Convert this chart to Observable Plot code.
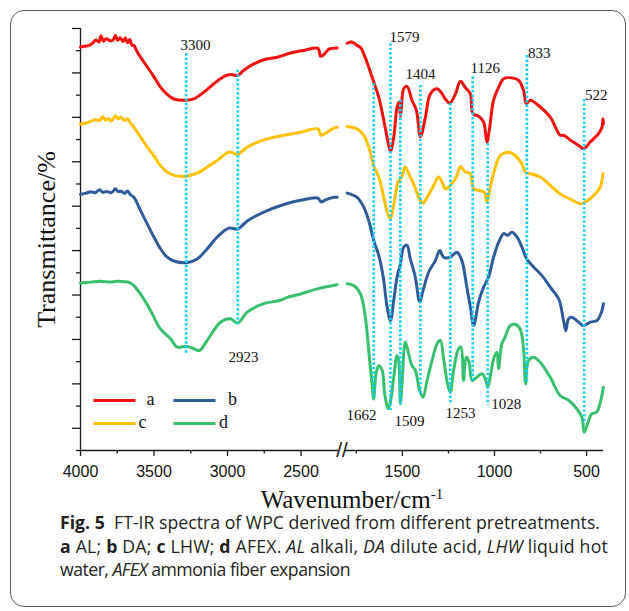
<!DOCTYPE html>
<html><head><meta charset="utf-8">
<script src="https://cdn.jsdelivr.net/npm/d3@7"></script>
<script src="https://cdn.jsdelivr.net/npm/@observablehq/plot@0.6"></script>
<style>
html,body{margin:0;padding:0;background:#fff;}
#wrap{position:relative;width:629px;height:611px;overflow:hidden;background:#fff;}
#box{position:absolute;left:10px;top:10px;width:616px;height:597px;border:1.3px solid #5a5a5a;border-radius:14px;box-sizing:border-box;}
#chart{position:absolute;left:0;top:0;}
.cap{position:absolute;left:60px;white-space:nowrap;font-family:"Open Sans",sans-serif;color:#231f20;line-height:1;}
</style></head><body>
<div id="wrap"><div id="box"></div><div id="chart"></div><div id="caption"></div></div>
<script>
// ---- data (wavenumber cm-1, transmittance offset %) ----
const series = ["a", "b", "c", "d"];
const seriesColors = ["#f2110f", "#2e5c9a", "#ffc000", "#38c06c"];

const aLeft = [[4000,95.6],[3970,95.8],[3940,96.0],[3915,96.6],[3895,97.3],[3875,96.8],[3860,98.3],[3845,97.0],[3825,97.6],[3800,97.1],[3780,97.2],[3762,98.4],[3748,97.2],[3730,97.8],[3710,96.9],[3695,97.8],[3680,96.6],[3665,97.4],[3650,96.0],[3637,96.0],[3615,94.5],[3592,93.2],[3546,90.9],[3501,88.6],[3456,86.1],[3410,84.4],[3365,83.3],[3281,83.0],[3229,83.3],[3161,84.9],[3093,86.9],[3025,88.6],[2980,89.1],[2930,88.9],[2889,90.1],[2821,91.6],[2753,92.6],[2662,93.2],[2571,94.2],[2481,94.8],[2385,95.3],[2367,93.4],[2340,94.0],[2310,95.1],[2254,95.4]];
const aRight = [[1800,96.5],[1775,96.8],[1746,96.0],[1725,95.4],[1710,94.0],[1683,90.9],[1656,87.3],[1628,83.7],[1601,78.2],[1580,73.5],[1565,70.9],[1547,74.3],[1529,81.4],[1518,82.6],[1511,79.2],[1505,81.5],[1493,85.7],[1475,86.3],[1448,83.0],[1424,80.6],[1402,74.3],[1375,79.0],[1348,84.5],[1312,85.7],[1290,84.9],[1267,83.3],[1243,82.3],[1212,84.5],[1185,87.5],[1158,86.0],[1131,84.5],[1117,79.8],[1086,79.2],[1059,77.8],[1041,73.1],[1026,76.6],[1005,83.0],[977,86.1],[950,88.1],[905,88.3],[869,87.7],[842,85.3],[827,82.2],[806,83.0],[751,81.4],[697,79.0],[643,74.7],[625,74.7],[589,73.6],[543,72.3],[516,71.5],[480,73.1],[435,75.1],[416,76.6],[411,78.6],[408,77.4]];

const bLeft = [[4000,60.7],[3960,61.0],[3930,61.3],[3900,61.1],[3870,61.8],[3850,61.2],[3820,61.4],[3790,61.1],[3762,62.0],[3745,61.4],[3720,61.4],[3700,60.9],[3680,61.5],[3660,60.6],[3637,60.0],[3592,56.9],[3546,53.7],[3501,50.6],[3456,47.8],[3410,45.8],[3365,44.9],[3281,44.5],[3206,45.4],[3138,47.8],[3070,50.6],[2991,52.7],[2930,52.5],[2866,54.4],[2753,56.5],[2617,58.3],[2503,59.3],[2385,59.8],[2363,58.9],[2333,59.4],[2277,60.0],[2254,60.0]];
const bRight = [[1800,61.0],[1746,60.0],[1710,57.7],[1683,54.5],[1656,49.8],[1628,46.2],[1604,41.1],[1583,34.0],[1565,30.8],[1547,35.6],[1529,41.1],[1511,44.2],[1493,48.2],[1475,48.6],[1457,45.4],[1430,41.1],[1406,35.2],[1388,37.9],[1357,42.3],[1321,45.0],[1297,47.4],[1276,45.8],[1240,45.8],[1204,47.0],[1177,45.0],[1150,38.7],[1131,34.0],[1113,29.6],[1086,35.2],[1059,38.7],[1032,41.1],[1005,45.8],[977,49.4],[950,51.4],[929,51.0],[905,51.7],[878,50.6],[851,48.2],[825,45.4],[788,43.5],[743,41.5],[697,38.7],[651,35.9],[625,30.8],[613,28.4],[598,31.2],[580,31.6],[543,30.4],[516,29.6],[480,30.4],[443,30.8],[422,32.4],[408,34.8]];

const cLeft = [[4000,77.3],[3960,77.6],[3930,78.0],[3900,78.4],[3870,78.2],[3850,79.1],[3830,78.3],[3810,78.6],[3790,78.1],[3762,79.3],[3745,78.6],[3725,79.0],[3700,78.2],[3680,78.6],[3660,77.6],[3637,76.6],[3592,74.3],[3546,71.9],[3501,69.9],[3456,67.5],[3410,66.0],[3365,65.2],[3281,65.0],[3206,65.7],[3138,67.2],[3070,68.7],[2991,70.7],[2930,70.2],[2866,71.9],[2753,73.6],[2617,74.7],[2503,75.4],[2385,76.2],[2363,74.7],[2333,75.2],[2277,76.4],[2254,76.6]];
const cRight = [[1800,76.8],[1746,76.2],[1710,74.7],[1683,71.9],[1656,67.5],[1628,64.8],[1601,60.0],[1580,56.1],[1565,54.9],[1543,59.3],[1524,63.6],[1505,64.8],[1484,67.2],[1466,65.6],[1439,63.2],[1411,60.0],[1388,58.6],[1366,60.0],[1330,62.8],[1303,64.8],[1281,63.2],[1267,62.0],[1240,62.8],[1207,64.8],[1185,67.3],[1158,66.0],[1131,65.6],[1113,62.0],[1080,61.6],[1055,61.2],[1041,58.9],[1023,62.4],[995,67.2],[968,69.9],[923,70.7],[887,69.9],[851,67.9],[833,66.0],[806,65.6],[751,64.8],[697,62.8],[643,60.8],[589,59.6],[534,58.5],[507,58.9],[462,60.4],[426,62.4],[411,65.6]];

const dLeft = [[4000,39.7],[3930,39.9],[3864,40.1],[3800,39.9],[3751,40.1],[3700,40.0],[3660,39.7],[3625,38.6],[3592,37.1],[3524,33.2],[3456,28.8],[3388,26.5],[3342,24.5],[3281,24.7],[3240,24.3],[3190,23.7],[3138,26.1],[3048,30.4],[2980,31.2],[2930,30.2],[2866,32.8],[2753,34.8],[2639,35.6],[2594,36.3],[2503,37.1],[2390,38.3],[2254,39.3]];
const dRight = [[1800,39.5],[1764,39.1],[1728,37.1],[1701,31.6],[1683,23.7],[1665,15.8],[1656,12.2],[1643,18.2],[1628,20.1],[1610,19.0],[1596,13.4],[1578,9.9],[1565,11.5],[1547,17.4],[1529,22.5],[1520,21.3],[1511,11.1],[1502,15.8],[1484,25.7],[1466,22.9],[1448,20.1],[1430,19.0],[1406,14.2],[1388,12.6],[1366,16.6],[1339,21.3],[1312,25.3],[1294,26.1],[1276,21.7],[1255,15.8],[1240,13.8],[1222,19.0],[1195,24.1],[1182,24.5],[1168,16.6],[1154,22.1],[1140,21.3],[1121,16.6],[1095,17.4],[1068,18.2],[1050,17.0],[1036,15.0],[1020,18.2],[1002,22.1],[987,23.3],[978,19.4],[960,25.3],[942,26.9],[915,29.6],[888,29.9],[861,28.8],[843,24.5],[831,15.8],[816,21.3],[788,22.1],[752,20.9],[698,17.4],[643,13.0],[598,11.9],[553,9.9],[525,7.9],[513,4.3],[495,6.3],[472,8.7],[445,9.1],[427,11.1],[409,15.0]];

const peakLabels = ["3300","2923","1662","1579","1509","1404","1253","1126","1028","833","522"];
const peakRuleX = [3281, 2930, 1656, 1565, 1511, 1402, 1240, 1118, 1037, 824, 513];
const peakTop = [94.0, 90.1, 86.9, 96.4, 83.0, 86.5, 82.2, 88.5, 72.7, 93.6, 83.2];
const peakBottom = [22.9, 30.0, 12.2, 9.1, 10.7, 13.0, 10.7, 16.2, 10.7, 15.8, 6.3];
const peakLabelX = [3218, 2891, 1722, 1489, 1462, 1402, 1185, 1050, 936, 757, 447];
const peakLabelY = [96.0, 22.0, 8.3, 97.9, 6.9, 89.1, 8.8, 90.5, 10.9, 94.1, 84.1];

const xMajor = [4000, 3500, 3000, 2500, 1500, 1000, 500];
const xMinor = [3750, 3250, 2750, 1750, 1250, 750];
const xSegments = [[4000, 2245], [1809, 408]];

// ---- broken x axis: wavenumber -> axis length (two linear pieces with a gap) ----
const xBreaks = [4000, 2245, 1809, 408];
const axisLen = [0, 258, 265, 523];
const brk = d3.scaleLinear(xBreaks, axisLen);
const frame = {left: 80, right: 603, top: 28, bottom: 450};
const yDomain = [0, 100];
const ys = d3.scaleLinear(yDomain, [frame.bottom, frame.top]);
const uPix = d3.scaleLinear([0, 523], [frame.left, frame.right]);
const yTicks = d3.range(20).map(i => 100 - i * 100 / 19);
const yMajor = yTicks.filter((_, i) => i % 2 === 0);
const yMinor = yTicks.filter((_, i) => i % 2 === 1);

const rows = [];
const segs = {a: [aLeft, aRight], b: [bLeft, bRight], c: [cLeft, cRight], d: [dLeft, dRight]};
for (const key of series) segs[key].forEach((seg, i) => seg.forEach(([wn, t]) => rows.push({series: key, seg: key + i, wn, t})));

const legendItems = [{key: "a", row: 0, col: 0, lx: 150}, {key: "b", row: 0, col: 1, lx: 232}, {key: "c", row: 1, col: 0, lx: 142}, {key: "d", row: 1, col: 1, lx: 223}];
const colX0 = [93, 173], colX1 = [135, 215], rowY = [400, 423];

const axisColor = "#1a1a1a";
const idx = peakLabels.map((_, i) => i);

const chart = Plot.plot({
  width: 629, height: 530,
  marginLeft: frame.left, marginRight: 629 - frame.right, marginTop: frame.top, marginBottom: 530 - frame.bottom,
  style: {background: "transparent", overflow: "visible"},
  x: {domain: [0, 523], axis: null},
  y: {domain: yDomain, axis: null},
  color: {domain: series, range: seriesColors},
  marks: [
    // axes
    Plot.ruleX([4000], {x: d => brk(d), y1: 0, y2: 100, stroke: axisColor, strokeWidth: 1.3}),
    Plot.ruleY(xSegments, {y: 0, x1: d => brk(d[0]), x2: d => brk(d[1]), stroke: axisColor, strokeWidth: 1.3}),
    Plot.ruleY(yMajor, {y: d => d, x1: 0, x2: uPix.invert(72), stroke: axisColor, strokeWidth: 1.3}),
    Plot.ruleY(yMinor, {y: d => d, x1: 0, x2: uPix.invert(76), stroke: axisColor, strokeWidth: 1.3}),
    Plot.ruleX(xMajor, {x: d => brk(d), y1: 0, y2: ys.invert(456), stroke: axisColor, strokeWidth: 1.3}),
    Plot.ruleX(xMinor, {x: d => brk(d), y1: 0, y2: ys.invert(453.5), stroke: axisColor, strokeWidth: 1.3}),
    Plot.text(xMajor, {x: d => brk(d), y: 0, dy: 21, text: d => String(d), fontFamily: "Liberation Sans", fontSize: 16, fill: "#111"}),
    Plot.text(["//"], {x: (axisLen[1] + axisLen[2]) / 2, y: 0, text: d => d, fontFamily: "Liberation Sans", fontSize: 21, fill: axisColor}),
    // spectra
    Plot.line(rows, {x: d => brk(d.wn), y: "t", z: "seg", stroke: "series", strokeWidth: 3, curve: "catmull-rom", strokeLinejoin: "round"}),
    // peak guides
    Plot.ruleX(idx, {x: i => brk(peakRuleX[i]), y1: i => peakTop[i], y2: i => peakBottom[i], stroke: "#10d2fc", strokeWidth: 2.7, strokeDasharray: "2.4 2.1"}),
    Plot.text(idx, {x: i => brk(peakLabelX[i]), y: i => peakLabelY[i], text: i => peakLabels[i], fontFamily: "Liberation Serif", fontSize: 15, fill: "#111"}),
    // legend
    Plot.link(legendItems, {x1: d => uPix.invert(colX0[d.col]), x2: d => uPix.invert(colX1[d.col]), y1: d => ys.invert(rowY[d.row]), y2: d => ys.invert(rowY[d.row]), stroke: "key", strokeWidth: 3}),
    Plot.text(legendItems, {x: d => uPix.invert(d.lx), y: d => ys.invert(rowY[d.row]), text: "key", fontFamily: "Liberation Serif", fontSize: 18, fill: "#111", dy: -1}),
    // axis titles
    Plot.text(["Transmittance/%"], {frameAnchor: "left", text: d => d, rotate: -90, dx: -26, textAnchor: "middle", lineAnchor: "bottom", fontFamily: "Liberation Serif", fontSize: 26, fill: "#111"}),
    Plot.text(["Wavenumber/cm"], {frameAnchor: "bottom", text: d => d, dx: 10, dy: 57, textAnchor: "middle", lineAnchor: "bottom", fontFamily: "Liberation Serif", fontSize: 25, fill: "#111"})
  ]
});
document.getElementById("chart").appendChild(chart);

// superscript on the x title
for (const t of chart.querySelectorAll("text")) {
  if (t.textContent === "Wavenumber/cm") {
    const ts = document.createElementNS("http://www.w3.org/2000/svg", "tspan");
    ts.setAttribute("dy", "-9");
    ts.setAttribute("font-size", "15");
    ts.textContent = "-1";
    t.appendChild(ts);
  }
}

// ---- caption ----
const capLines = [
  '<b>Fig. 5</b>&nbsp; FT-IR spectra of WPC derived from different pretreatments.',
  '<b>a</b> AL; <b>b</b> DA; <b>c</b> LHW; <b>d</b> AFEX. <i>AL</i> alkali, <i>DA</i> dilute acid, <i>LHW</i> liquid hot',
  'water, <i>AFEX</i> ammonia fiber expansion'
];
const capBaselines = [530, 553.5, 577];
const capWidths = [540, 548, 290];
const capEl = document.getElementById("caption");
const divs = capLines.map(h => { const d = document.createElement("div"); d.className = "cap"; d.innerHTML = h; d.style.fontSize = "17px"; capEl.appendChild(d); return d; });
const fs = 17 * capWidths[0] / divs[0].getBoundingClientRect().width;
divs.forEach((d, i) => {
  d.style.fontSize = fs + "px";
  d.style.top = (capBaselines[i] - 0.888 * fs) + "px";
  const w = d.getBoundingClientRect().width;
  const n = d.textContent.length;
  d.style.letterSpacing = ((capWidths[i] - w) / n) + "px";
});
</script></body></html>
